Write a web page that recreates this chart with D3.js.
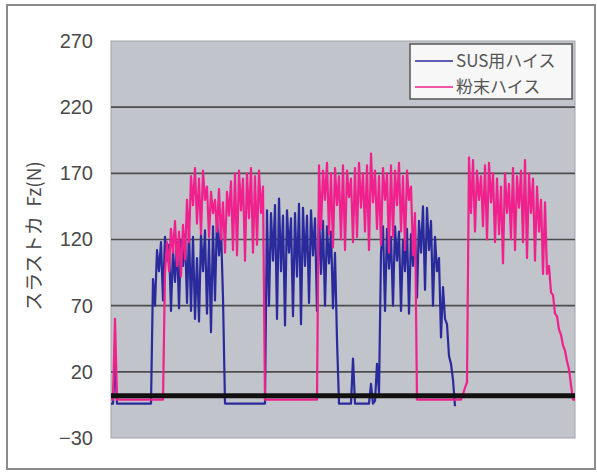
<!DOCTYPE html>
<html>
<head>
<meta charset="utf-8">
<script src="https://cdn.jsdelivr.net/npm/d3@7"></script>
<style>
  html, body { margin: 0; padding: 0; background: #fff; }
  svg { display: block; }
</style>
</head>
<body>
<svg id="chart" width="597" height="472"></svg>
<script>
// ---- data (sample index -> thrust force Fz in N) ----
const seriesNames = ["SUS用ハイス", "粉末ハイス"];
const yTicks = [-30, 20, 70, 120, 170, 220, 270];
const yTickLabels = ["−30", "20", "70", "120", "170", "220", "270"];
const baselineValue = 2;

const susValues = [
  -4, -4, 28, -4,
  -4, -4, -4, -4, -4, -4, -4, -4, -4, -4, -4, -4, -4, -4, -4, -4, -4,
  90,
  70, 112, 96, 118, 74, 122, 104, 116, 66, 112,
  88, 118, 68, 120, 100, 124, 72, 127, 66, 122,
  60, 106, 58, 124, 96, 127, 64, 120, 50, 130,
  74, 137, 108, 128, 76,
  -4,
  -4, -4, -4, -4, -4, -4, -4, -4, -4, -4, -4, -4, -4, -4, -4, -4, -4, -4, -4, -4,
  142, 70, 140, 104, 146, 60, 151, 96, 138, 55,
  142, 110, 136, 62, 140, 92, 147, 56, 144, 100,
  138, 72, 142, 108, 136, 66, 140, 94, 134, 70,
  130, 102, 126, 68, 110, 44,
  -4, -4, -4, -4, -4, -4, -4,
  30,
  -4, -4, -4, -4, -4, -4, -4, -4,
  11, -4, -2, 26, 4, 110, 130,
  66, 128, 98, 122, 70, 130, 104, 126, 66, 120,
  96, 128, 64, 124, 100, 130, 76, 134, 110, 145,
  82, 144, 112, 134, 70, 122, 96, 106, 46, 84,
  60, 56, 32, 26, 14,
  -6
];

const powderValues = [
  -1, -1, 60, -1,
  -1, -1, -1, -1, -1, -1, -1, -1, -1, -1, -1, -1, -1, -1, -1, -1, -1, -1, -1, -1, -1, -1, -1,
  95,
  118, 96, 128, 110, 134, 100, 126, 92, 131, 105,
  150, 118, 168, 146, 174, 132, 166, 124, 172, 150,
  160, 122, 156, 140, 150, 126, 158, 120, 148, 110,
  156, 138, 164, 112, 170, 108, 172, 142, 166, 104,
  170, 136, 174, 110, 168, 116, 172, 140, 160,
  -1,
  -1, -1, -1, -1, -1, -1, -1, -1, -1, -1, -1, -1, -1, -1, -1, -1, -1, -1, -1, -1, -1, -1, -1, -1, -1, -1,
  176, 128, 172, 150, 178, 124, 170, 114, 174, 146,
  168, 120, 176, 112, 172, 152, 166, 118, 174, 122,
  178, 144, 170, 126, 176, 112, 185, 148, 172, 128,
  168, 116, 174, 150, 170, 110, 176, 122, 172, 146,
  178, 126, 168, 112, 172, 150, 160, 108, 140,
  -1,
  -1, -1, -1, -1, -1, -1, -1, -1, -1, -1, -1, -1, -1, -1, -1, -1, -1, -1, -1, -1, -1, -1,
  3, 8, 12,
  182, 140, 180, 126, 172, 150, 168, 130, 176, 120,
  178, 148, 170, 118, 166, 124, 160, 102, 170, 140,
  162, 120, 174, 112, 168, 144, 172, 118, 180, 106,
  170, 140, 166, 104, 160, 126, 150, 94, 148, 94,
  100, 80, 78, 64, 62, 52, 48, 40, 36, 28,
  22, 10,
  -1, -1
];

// ---- layout ----
const W = 597, H = 472;
const plot = { left: 111, right: 575, top: 41, bottom: 438 };
const colors = { sus: "#2a2a9c", powder: "#f0208c" };

const svg = d3.select("#chart");

// outer frame
svg.append("rect")
  .attr("x", 7).attr("y", 5).attr("width", 588).attr("height", 464)
  .attr("fill", "#fff").attr("stroke", "#8c8c8c").attr("stroke-width", 2);

const x = d3.scaleLinear().domain([0, powderValues.length - 1]).range([plot.left, plot.right]);
const y = d3.scaleLinear().domain([-30, 270]).range([plot.bottom, plot.top]);

// plot background
svg.append("rect")
  .attr("x", plot.left).attr("y", plot.top)
  .attr("width", plot.right - plot.left).attr("height", plot.bottom - plot.top)
  .attr("fill", "#c1c4cb").attr("stroke", "#a2a4a8").attr("stroke-width", 1);

// gridlines
svg.append("g").selectAll("line")
  .data(yTicks.filter(v => v > -30 && v < 270))
  .join("line")
  .attr("x1", plot.left).attr("x2", plot.right)
  .attr("y1", d => y(d)).attr("y2", d => y(d))
  .attr("stroke", "#4d4d4d").attr("stroke-width", 1.6);

// y axis labels
const yAxis = d3.axisLeft(y)
  .tickValues(yTicks)
  .tickFormat((d, i) => yTickLabels[i])
  .tickSize(0)
  .tickPadding(18);
const gy = svg.append("g").attr("transform", `translate(${plot.left},0)`).call(yAxis);
gy.select(".domain").remove();
gy.selectAll("text")
  .attr("fill", "#4a4a4a")
  .style("font-family", "'Liberation Sans', Arial, sans-serif")
  .style("font-size", "20px");

// series lines
const line = d3.line().x((d, i) => x(i)).y(d => y(d));
svg.append("path").datum(susValues)
  .attr("d", line).attr("fill", "none")
  .attr("stroke", colors.sus).attr("stroke-width", 2.2).attr("stroke-linejoin", "round");
svg.append("path").datum(powderValues)
  .attr("d", line).attr("fill", "none")
  .attr("stroke", colors.powder).attr("stroke-width", 2.2).attr("stroke-linejoin", "round");

// thick baseline
svg.append("line")
  .attr("x1", plot.left).attr("x2", plot.right)
  .attr("y1", y(baselineValue)).attr("y2", y(baselineValue))
  .attr("stroke", "#111").attr("stroke-width", 5);

// y axis title
svg.append("text")
  .attr("transform", `translate(41,236) rotate(-90)`)
  .attr("text-anchor", "middle")
  .attr("fill", "#4a4a4a")
  .style("font-family", "'Noto Sans CJK JP', sans-serif")
  .style("font-size", "19px")
  .text("スラストカ\u2002Fz(N)");

// legend
const lg = svg.append("g");
lg.append("rect")
  .attr("x", 410).attr("y", 44).attr("width", 162).attr("height", 55)
  .attr("fill", "#f7f7f7").attr("stroke", "#555").attr("stroke-width", 1.5);
const legendItems = [
  { name: seriesNames[0], color: colors.sus },
  { name: seriesNames[1], color: colors.powder }
];
legendItems.forEach((d, i) => {
  const cy = 61 + i * 26;
  lg.append("line")
    .attr("x1", 415).attr("x2", 453).attr("y1", cy).attr("y2", cy)
    .attr("stroke", d.color).attr("stroke-width", 1.5);
  lg.append("text")
    .attr("x", 456).attr("y", cy).attr("dy", "0.35em")
    .attr("fill", "#555")
    .style("font-family", "'Noto Sans CJK JP', sans-serif")
    .style("font-size", "17px")
    .text(d.name);
});
</script>
</body>
</html>
